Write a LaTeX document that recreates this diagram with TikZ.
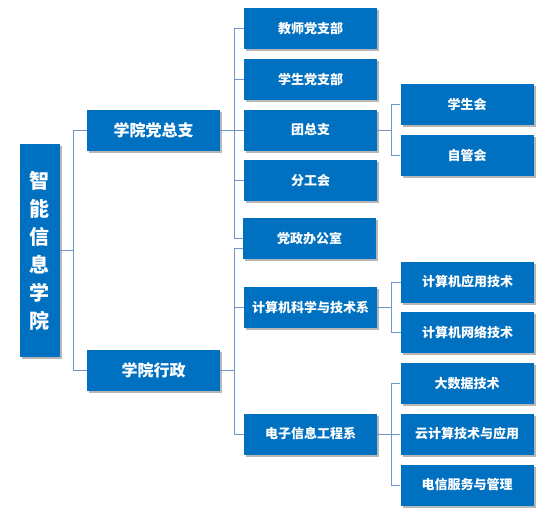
\documentclass[tikz,border=0pt]{standalone}
\usepackage{fontspec}
\newfontfamily\cjk{Noto Sans CJK SC}
\usetikzlibrary{shadows}
\definecolor{boxblue}{HTML}{0070C0}
\definecolor{linkblue}{HTML}{6F97C9}

\begin{document}
\begin{tikzpicture}[
    x=1pt, y=-1pt,
    every node/.style={fill=boxblue, text=white, inner sep=0pt,
        drop shadow={shadow xshift=2pt, shadow yshift=-2pt, opacity=0.4, fill=black!70}},
    unit/.style={minimum width=133pt, minimum height=41pt, font=\cjk\bfseries\fontsize{13}{13}\selectfont},
    branch/.style={unit, font=\cjk\bfseries\fontsize{16}{16}\selectfont},
    college/.style={minimum width=40pt, minimum height=213pt, align=center, font=\cjk\bfseries\fontsize{20}{28}\selectfont},
    link/.style={draw=linkblue, line width=0.9pt}
]
    \useasboundingbox (0,0) rectangle (552,517);

    % top of the tree
    \node [college] (root) at (40,250.5) {智\\能\\信\\息\\学\\院};
    \node [branch] (dzz) at (153.5,130) {学院党总支};
    \node [branch] (xz) at (153.5,370.5) {学院行政};

    % second level
    \node [unit] (jsdzb) at (310.5,28.5) {教师党支部};
    \node [unit] (xsdzb) at (310.5,79.5) {学生党支部};
    \node [unit] (tzz) at (310.5,130) {团总支};
    \node [unit] (fgh) at (310.5,180.5) {分工会};
    \node [unit] (dbgs) at (309.5,238.5) {党政办公室};
    \node [unit] (jsjx) at (310.5,307.5) {计算机科学与技术系};
    \node [unit] (dzx) at (310.5,434) {电子信息工程系};

    % third level
    \node [unit] (xsh) at (467,104.5) {学生会};
    \node [unit] (zgh) at (467,155.5) {自管会};
    \node [unit] (jsjyy) at (467.5,282) {计算机应用技术};
    \node [unit] (jsjwl) at (467.5,332.5) {计算机网络技术};
    \node [unit] (dsj) at (467,383.5) {大数据技术};
    \node [unit] (yjs) at (467,434) {云计算技术与应用};
    \node [unit] (dxfw) at (467,485) {电信服务与管理};

    % connectors
    \draw [link] (root.east) -- ++(13,0) coordinate (t0);
    \draw [link] (t0) |- (dzz.west);
    \draw [link] (t0) |- (xz.west);

    \draw [link] (dzz.east) -- ++(14,0) coordinate (t1);
    \foreach \n in {jsdzb, xsdzb, tzz, fgh, dbgs}
        \draw [link] (t1) |- (\n.west);

    \draw [link] (xz.east) -- ++(14,0) coordinate (t2);
    \draw [link] (t2) |- ([yshift=-10pt]dbgs.west);
    \foreach \n in {jsjx, dzx}
        \draw [link] (t2) |- (\n.west);

    \draw [link] (tzz.east) -- ++(14,0) coordinate (t3);
    \foreach \n in {xsh, zgh}
        \draw [link] (t3) |- (\n.west);

    \draw [link] (jsjx.east) -- ++(14,0) coordinate (t4);
    \foreach \n in {jsjyy, jsjwl}
        \draw [link] (t4) |- (\n.west);

    \draw [link] (dzx.east) -- ++(14,0) coordinate (t5);
    \foreach \n in {dsj, yjs, dxfw}
        \draw [link] (t5) |- (\n.west);
\end{tikzpicture}
\end{document}
